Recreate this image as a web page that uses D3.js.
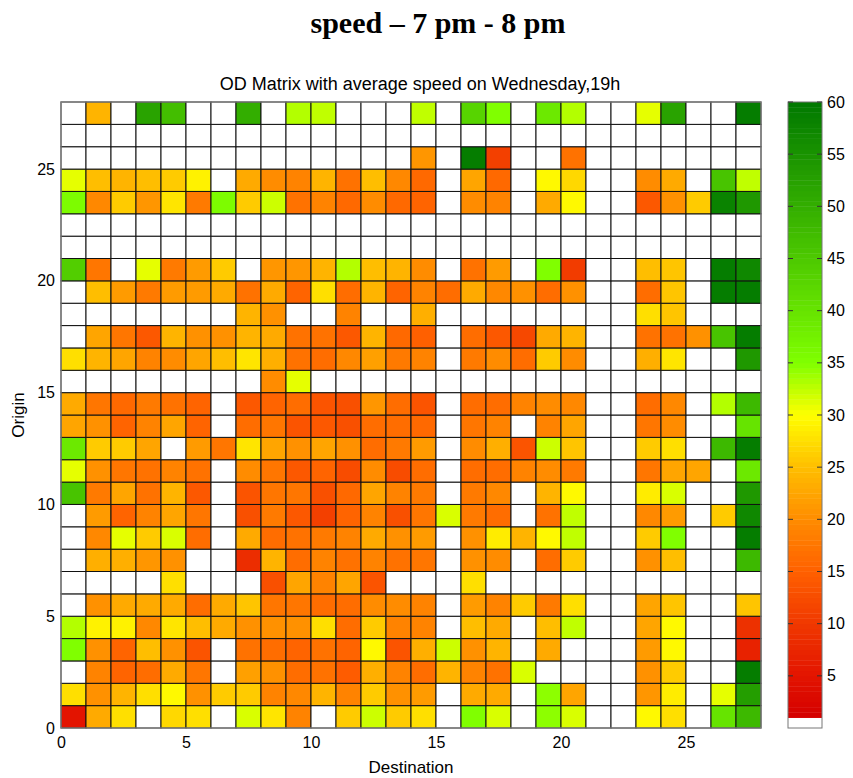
<!DOCTYPE html>
<html>
<head>
<meta charset="utf-8">
<script src="https://cdn.jsdelivr.net/npm/d3@7"></script>
<style>
  body { margin: 0; background: #fff; }
  text { font-family: "Liberation Sans", Arial, sans-serif; fill: #000; }
</style>
</head>
<body>
<script>
const n = null;

// speed (origin rows 0..27, destination columns 0..27), null = no data
const row0  = [5,23,27.5,n,27,27.5,n,31.5,28,19,n,26,32,26,27.5,n,35,31.5,n,34.5,31.5,n,n,29.5,27.5,n,40,48];
const row1  = [27.5,20.5,24,27.5,29.5,20.5,26,26,19,19.5,24,19,26,20.5,21.5,n,23,23,n,34.5,22.5,n,n,21,28.5,n,31,53];
const row2  = [n,19,15.5,16.5,23,17.5,n,22,20.5,16.5,17,14.5,23.5,19,16.5,24,19,17,31.5,n,n,n,n,20.5,26,n,n,59];
const row3  = [35,20.5,15.5,25,20.5,13.5,n,17,16.5,15.5,17,15.5,29.5,13.5,23.5,32,20.5,24,n,23,n,n,n,21.5,29.5,n,n,7];
const row4  = [33,29,29,19.5,28,25,23,20.5,20.5,20.5,27.5,16.5,26,19,19,n,25,23,n,25,32.5,n,n,22.5,29.5,n,n,9];
const row5  = [n,20.5,23,23,23,16.5,23,25.5,17.5,17.5,16.5,16.5,20,20,19,n,21.5,19,26,18,27.5,n,n,22.5,25.5,n,n,25.5];
const row6  = [n,n,n,n,27.5,n,n,n,13,22.5,19,22.5,13.5,n,n,n,27.5,n,n,n,n,n,n,n,n,n,n,n];
const row7  = [n,23.5,23.5,21,20.5,n,n,8.5,24,16.5,19,17,19,17,17.5,n,20.5,20,n,16.5,26,n,n,20.5,25,n,n,48];
const row8  = [n,19.5,31,26,31.5,16.5,n,23,16.5,17,18,19,23,20.5,21.5,n,20.5,28.5,24,29.5,32.5,n,n,26,35,n,n,59];
const row9  = [n,21.5,15.5,19,22.5,17.5,n,13,18,14,11,15.5,19,13,17.5,31.5,18,16.5,n,17,32.5,n,n,19.5,21.5,n,26,57];
const row10 = [46,18,22.5,17,24,14,n,13.5,17.5,17.5,13,16,22.5,19,18,n,18,19.5,n,24,29.5,n,n,28.5,31.5,n,n,54];
const row11 = [31,20.5,17.5,17,19,17,n,20,17.5,14,15.5,12.5,20,12.5,16.5,n,16.5,16.5,19,20,18,n,n,17.5,22.5,22.5,n,39];
const row12 = [39,26,26,22.5,n,21.5,17.5,28,22.5,20.5,22.5,20.5,16.5,18,21.5,n,20,23.5,13.5,32,25.5,n,n,26,27.5,n,48,59];
const row13 = [22.5,20.5,15.5,19,22.5,15.5,n,16.5,17.5,13.5,14,13,16.5,16.5,16,n,17.5,19,n,19,22.5,n,n,17.5,20,n,n,40];
const row14 = [23,17.5,16,18,17,15.5,n,14,15.5,16.5,13.5,13,21,16.5,13.5,n,16.5,16.5,19,20,19.5,n,n,16.5,19.5,n,33,48];
const row15 = [n,n,n,n,n,n,n,n,20,31,n,n,n,n,n,n,n,n,n,n,n,n,n,n,n,n,n,n];
const row16 = [27.5,24,22.5,19,20,22.5,25,28,23.5,17,16.5,19.5,22,18,19,n,18,20,16.5,26,20,n,n,23.5,28,n,n,54];
const row17 = [n,22.5,17.5,14,24,20.5,20.5,24,23,17,17,14,24,16,15,n,16.5,14,12,23,24,n,n,17,17,20.5,46,59];
const row18 = [n,n,n,n,n,n,n,24,20.5,n,n,19,n,n,23.5,n,n,n,n,n,n,n,n,27.5,25.5,n,n,n];
const row19 = [n,25,21.5,18,21.5,21.5,23,17,23,15.5,27.5,16.5,24,15.5,19,16.5,23,19.5,20.5,16.5,20.5,n,n,16.5,25.5,n,59,59];
const row20 = [44,17.5,n,31,18,21.5,26,n,21,21,24,33,25,24,20,n,17,21.5,n,35,10.5,n,n,25,25.5,n,59,57];
const row21 = [n,n,n,n,n,n,n,n,n,n,n,n,n,n,n,n,n,n,n,n,n,n,n,n,n,n,n,n];
const row22 = [n,n,n,n,n,n,n,n,n,n,n,n,n,n,n,n,n,n,n,n,n,n,n,n,n,n,n,n];
const row23 = [35.5,19.5,26,21,28,18,35.5,26,32,17,19,16,20,16,15.5,n,20,19,n,23,29.5,n,n,14,20.5,26,58,54];
const row24 = [31,25,24,25,26,29,n,23,20,19,24,17,25,19.5,16,n,22.5,16,n,29.5,27,n,n,20,23,n,46,32.5];
const row25 = [n,n,n,n,n,n,n,n,n,n,n,n,n,n,21,n,59,11,n,n,17,n,n,n,n,n,n,n];
const row26 = [n,n,n,n,n,n,n,n,n,n,n,n,n,n,n,n,n,n,n,n,n,n,n,n,n,n,n,n];
const row27 = [n,24,n,52,47,n,n,50,n,33,32.5,n,n,n,32.5,n,43,35,n,39,33,n,n,31,52,n,n,59];

const speedRows = [row0,row1,row2,row3,row4,row5,row6,row7,row8,row9,row10,row11,row12,row13,
  row14,row15,row16,row17,row18,row19,row20,row21,row22,row23,row24,row25,row26,row27];

const axisTicks = [0, 5, 10, 15, 20, 25];
const barTicks = [5, 10, 15, 20, 25, 30, 35, 40, 45, 50, 55, 60];
const colorStops = [1, 5, 10, 15, 20, 25, 30, 35, 60];
const colorRange = ["#d40000", "#e31400", "#f03800", "#ff6000", "#ff8c00", "#ffbe00", "#ffff00", "#80ff00", "#007800"];

const W = 853, H = 778;
const plotLeft = 61, plotRight = 761, plotTop = 102, plotBottom = 728;
const barX = 788, barW = 34;

const svg = d3.select("body").append("svg")
  .attr("width", W)
  .attr("height", H);

const x = d3.scaleLinear().domain([0, 28]).range([plotLeft, plotRight]);
const y = d3.scaleLinear().domain([0, 28]).range([plotBottom, plotTop]);
const color = d3.scaleLinear().domain(colorStops).range(colorRange).clamp(true);

// title
svg.append("text")
  .attr("x", 438)
  .attr("y", 33)
  .attr("text-anchor", "middle")
  .style("font-family", "'Palatino Linotype', 'URW Palladio L', 'Liberation Serif', serif")
  .style("font-weight", "bold")
  .style("font-size", "30px")
  .text("speed \u2013 7 pm - 8 pm");

svg.append("text")
  .attr("x", 420)
  .attr("y", 90)
  .attr("text-anchor", "middle")
  .style("font-size", "18px")
  .text("OD Matrix with average speed on Wednesday,19h");

// cells
const cells = [];
speedRows.forEach((row, o) => row.forEach((v, d) => cells.push({ o, d, v })));

svg.append("g")
  .selectAll("rect")
  .data(cells)
  .enter()
  .append("rect")
  .attr("x", d => x(d.d))
  .attr("y", d => y(d.o + 1))
  .attr("width", x(1) - x(0))
  .attr("height", y(0) - y(1))
  .attr("fill", d => d.v == null ? "#fff" : color(d.v))
  .attr("stroke", "#111")
  .attr("stroke-width", 1);

// frame
svg.append("rect")
  .attr("x", plotLeft)
  .attr("y", plotTop)
  .attr("width", plotRight - plotLeft)
  .attr("height", plotBottom - plotTop)
  .attr("fill", "none")
  .attr("stroke", "#888")
  .attr("stroke-width", 1.2);

// axes
const xAxis = d3.axisBottom(x).tickValues(axisTicks).tickSize(0).tickPadding(9).tickFormat(d3.format("d"));
svg.append("g")
  .attr("transform", "translate(0," + plotBottom + ")")
  .call(xAxis)
  .call(g => g.select(".domain").remove())
  .selectAll("text")
  .style("font-size", "16px")
  .style("font-family", "'Liberation Sans', Arial, sans-serif");

const yAxis = d3.axisLeft(y).tickValues(axisTicks).tickSize(0).tickPadding(6).tickFormat(d3.format("d"));
svg.append("g")
  .attr("transform", "translate(" + plotLeft + ",0)")
  .call(yAxis)
  .call(g => g.select(".domain").remove())
  .selectAll("text")
  .style("font-size", "16px")
  .style("font-family", "'Liberation Sans', Arial, sans-serif");

svg.append("text")
  .attr("x", 411)
  .attr("y", 773)
  .attr("text-anchor", "middle")
  .style("font-size", "17px")
  .text("Destination");

svg.append("text")
  .attr("transform", "translate(24,415) rotate(-90)")
  .attr("text-anchor", "middle")
  .style("font-size", "17px")
  .text("Origin");

// colour bar
const barY = d3.scaleLinear().domain([0, 60]).range([plotBottom, plotTop]);
const barSteps = d3.range(1, 60, 0.5);
const bar = svg.append("g");
bar.selectAll("rect")
  .data(barSteps)
  .enter()
  .append("rect")
  .attr("x", barX)
  .attr("y", d => barY(d + 0.5))
  .attr("width", barW)
  .attr("height", barY(0) - barY(0.5) + 0.4)
  .attr("fill", d => color(d + 0.25));

bar.append("rect")
  .attr("x", barX)
  .attr("y", plotTop)
  .attr("width", barW)
  .attr("height", plotBottom - plotTop)
  .attr("fill", "none")
  .attr("stroke", "#777")
  .attr("stroke-width", 1);

bar.selectAll("line.l")
  .data(barTicks)
  .enter()
  .append("line")
  .attr("x1", barX).attr("x2", barX + 5)
  .attr("y1", d => barY(d)).attr("y2", d => barY(d))
  .attr("stroke", "#333");
bar.selectAll("line.r")
  .data(barTicks)
  .enter()
  .append("line")
  .attr("x1", barX + barW - 5).attr("x2", barX + barW)
  .attr("y1", d => barY(d)).attr("y2", d => barY(d))
  .attr("stroke", "#333");

bar.selectAll("text")
  .data(barTicks)
  .enter()
  .append("text")
  .attr("x", barX + barW + 5)
  .attr("y", d => barY(d))
  .attr("dy", "0.35em")
  .style("font-size", "16px")
  .text(d => d);
</script>
</body>
</html>
